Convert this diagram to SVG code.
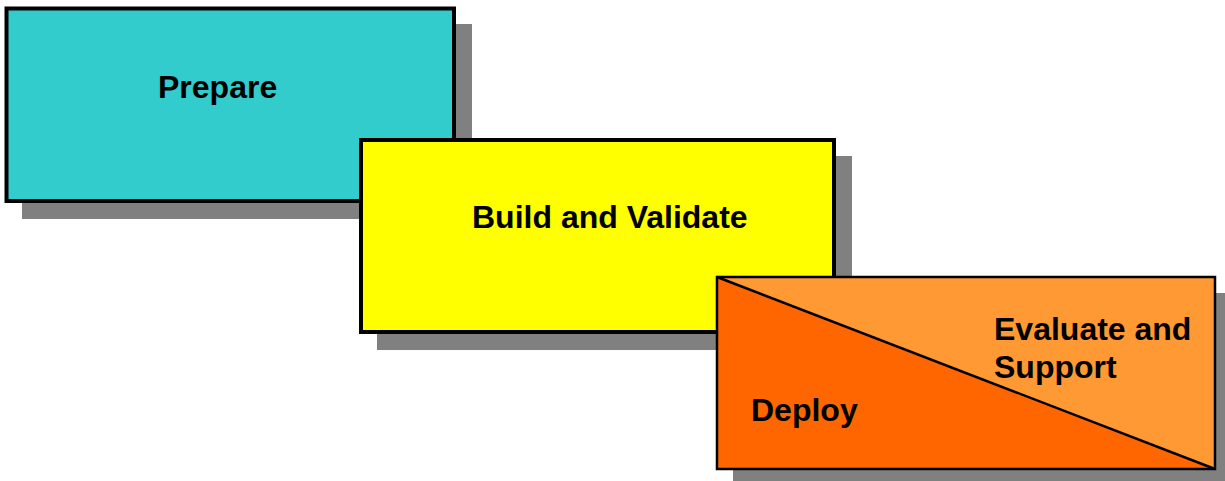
<svg xmlns="http://www.w3.org/2000/svg" width="1225" height="481" viewBox="0 0 1225 481">
<style>
.shadow{fill:#808080;}
.box{stroke:#000;stroke-width:4;}
.lbl{font-family:"Liberation Sans",Arial,sans-serif;font-weight:bold;font-size:32px;fill:#000;}
</style>
<rect width="1225" height="481" fill="#fff"/>
<g id="prepare">
<rect class="shadow" x="22" y="24" width="450" height="195"/>
<rect class="box" x="6.5" y="8.5" width="447.5" height="192.5" fill="#33CCCC"/>
<text class="lbl" x="158" y="98">Prepare</text>
</g>
<g id="build">
<rect class="shadow" x="377" y="156" width="475" height="194"/>
<rect class="box" x="361" y="140" width="473" height="192" fill="#FFFF00"/>
<text class="lbl" x="472" y="228">Build and Validate</text>
</g>
<g id="deploy-evaluate">
<rect class="shadow" x="733" y="293" width="492" height="188"/>
<polygon points="717,277 1215,277 1215,469" fill="#FF9933"/>
<polygon points="717,277 1215,469 717,469" fill="#FF6600"/>
<rect x="717" y="277" width="498" height="192" fill="none" stroke="#000" stroke-width="2.5"/>
<line x1="717" y1="277" x2="1215" y2="469" stroke="#000" stroke-width="2.5"/>
<text class="lbl" x="994" y="340">Evaluate and</text>
<text class="lbl" x="994" y="378">Support</text>
<text class="lbl" x="751" y="421">Deploy</text>
</g>
<g id="connectors"></g>
</svg>
